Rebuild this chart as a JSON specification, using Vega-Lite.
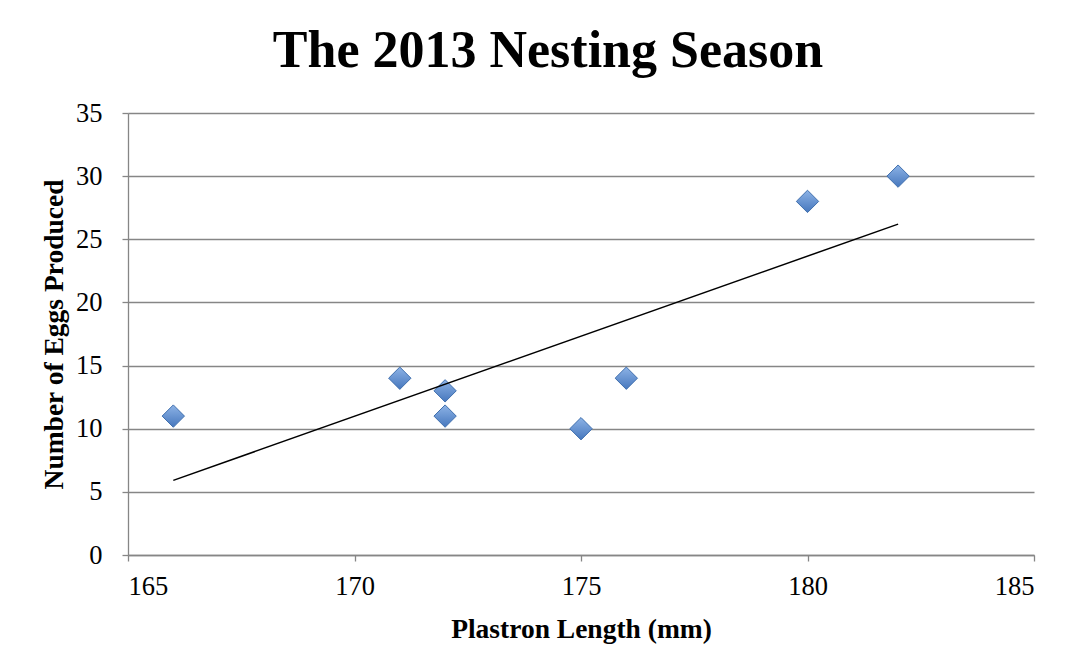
{
  "$schema": "https://vega.github.io/schema/vega-lite/v6.json",
  "width": 906,
  "height": 442,
  "autosize": {"type": "none"},
  "padding": {"left": 128, "top": 113, "right": 43, "bottom": 117},
  "background": "white",
  "title": {
    "text": "The 2013 Nesting Season",
    "font": "Liberation Serif",
    "fontSize": 52,
    "fontWeight": "bold",
    "color": "black",
    "anchor": "middle",
    "dx": -33,
    "offset": -19,
    "baseline": "alphabetic"
  },
  "config": {
    "view": {"stroke": null},
    "axis": {
      "domainColor": "#868686",
      "domainWidth": 1.3,
      "tickColor": "#868686",
      "tickWidth": 1.3,
      "tickSize": 6,
      "gridColor": "#868686",
      "gridWidth": 1.3,
      "labelFont": "Liberation Serif",
      "labelFontSize": 26.5,
      "labelColor": "black",
      "titleFont": "Liberation Serif",
      "titleFontSize": 27.5,
      "titleFontWeight": "bold",
      "titleColor": "black"
    }
  },
  "data": {
    "values": [
      {"length": 166, "eggs": 11},
      {"length": 171, "eggs": 14},
      {"length": 172, "eggs": 13},
      {"length": 172, "eggs": 11},
      {"length": 175, "eggs": 10},
      {"length": 176, "eggs": 14},
      {"length": 180, "eggs": 28},
      {"length": 182, "eggs": 30}
    ]
  },
  "layer": [
    {
      "mark": {
        "type": "point",
        "shape": "diamond",
        "filled": true,
        "size": 500,
        "opacity": 1,
        "fill": {
          "gradient": "linear",
          "x1": 0, "y1": 0, "x2": 0, "y2": 1,
          "stops": [
            {"offset": 0, "color": "#8db3e6"},
            {"offset": 1, "color": "#4677bd"}
          ]
        },
        "stroke": "#3f6fae",
        "strokeWidth": 1
      },
      "encoding": {
        "x": {
          "field": "length",
          "type": "quantitative",
          "scale": {"domain": [165, 185], "nice": false, "zero": false},
          "axis": {
            "values": [165, 170, 175, 180, 185],
            "grid": false,
            "labelPadding": 12,
            "title": "Plastron Length (mm)",
            "titlePadding": 16
          }
        },
        "y": {
          "field": "eggs",
          "type": "quantitative",
          "scale": {"domain": [0, 35], "nice": false},
          "axis": {
            "values": [0, 5, 10, 15, 20, 25, 30, 35],
            "grid": true,
            "labelPadding": 20,
            "title": "Number of Eggs Produced",
            "titlePadding": 7
          }
        }
      }
    },
    {
      "transform": [{"regression": "eggs", "on": "length"}],
      "mark": {"type": "line", "color": "black", "strokeWidth": 1.5},
      "encoding": {
        "x": {"field": "length", "type": "quantitative"},
        "y": {"field": "eggs", "type": "quantitative"}
      }
    }
  ]
}
